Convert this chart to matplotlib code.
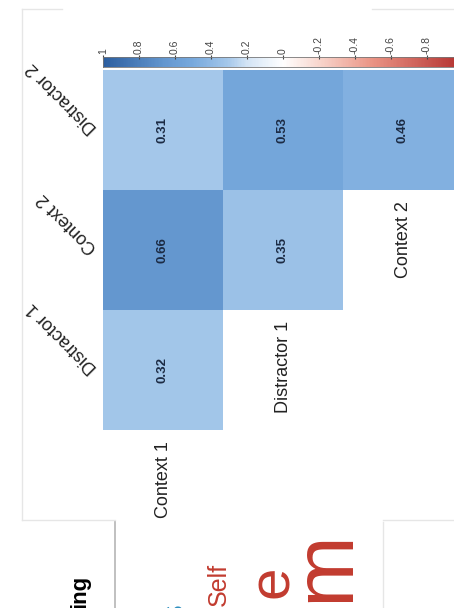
import numpy as np
import matplotlib
matplotlib.use("Agg")
import matplotlib.pyplot as plt
from matplotlib.colors import LinearSegmentedColormap, Normalize
from matplotlib.cm import ScalarMappable
from matplotlib.lines import Line2D

plt.rcParams['font.family'] = ['Liberation Sans', 'DejaVu Sans']

# data (chart is shown rotated: rows on the left, columns at the bottom)
row_labels = ['Distractor 2', 'Context 2', 'Distractor 1']
col_labels = ['Context 1', 'Distractor 1', 'Context 2']
corr_row1 = [0.31, 0.53, 0.46]
corr_row2 = [0.66, 0.35, np.nan]
corr_row3 = [0.32, np.nan, np.nan]
cbar_ticks = [1, 0.8, 0.6, 0.4, 0.2, 0, -0.2, -0.4, -0.6, -0.8]

values = np.ma.masked_invalid(np.array([corr_row1, corr_row2, corr_row3]))

# washed-out blue/red palette, blue side for positive values
cmap = LinearSegmentedColormap.from_list('corr', [
    (0.0, '#b2302e'), (0.25, '#ea9384'), (0.4, '#f8d6cd'), (0.5, '#ffffff'),
    (0.6, '#d3e4f5'), (0.655, '#a4c7ea'), (0.75, '#78a9dd'),
    (0.83, '#6497cf'), (1.0, '#2c5e9f')])
norm = Normalize(vmin=-1, vmax=1)

W, H = 454, 608
fig = plt.figure(figsize=(W / 100, H / 100), dpi=100)
fig.patch.set_facecolor('white')

# background slide fragments
def fline(xs, ys, color='#e6e6e6', lw=1.0):
    fig.add_artist(Line2D([x / W for x in xs], [1 - y / H for y in ys],
                          color=color, lw=lw, transform=fig.transFigure))

fline([22, 62], [9, 9])
fline([372, 454], [9, 9])
fline([22, 22], [9, 520])
fline([22, 115], [520, 520])
fline([383, 454], [520, 520])
fline([383, 383], [522, 608])
fline([115, 115], [522, 608], color='#b5b5b5', lw=1.2)

fig.text(80 / W, 1 - 575 / H, 'ing', rotation=90, rotation_mode='anchor',
         ha='right', va='center', fontsize=16, fontweight='bold', color='black')
fig.text(219 / W, 1 - 563 / H, 'Self', rotation=90, rotation_mode='anchor',
         ha='right', va='center', fontsize=18, color='#c23b2f')
fig.text(176 / W, 1 - 603 / H, 'S', rotation=90, rotation_mode='anchor',
         ha='right', va='center', fontsize=18, color='#2f8fbf')
fig.text(288 / W, 1 - 565 / H, 'e', rotation=90, rotation_mode='anchor',
         ha='right', va='baseline', fontsize=42, color='#c23b2f')
fig.text(348 / W, 1 - 530 / H, 'm', rotation=90, rotation_mode='anchor',
         ha='right', va='baseline', fontsize=62, color='#c23b2f')

# heatmap
ax = fig.add_axes([103 / W, 1 - 430 / H, 360 / W, 360 / H])
ax.pcolormesh(values, cmap=cmap, norm=norm)
ax.set_xlim(0, 3)
ax.set_ylim(3, 0)
ax.axis('off')

for i in range(values.shape[0]):
    for j in range(values.shape[1]):
        if values.mask[i, j]:
            continue
        ax.text(j + 0.5, i + 0.5, f'{values[i, j]:.2f}', rotation=90,
                ha='center', va='center', fontsize=9.5, fontweight='bold',
                color='#1c2b44')

for i, lab in enumerate(row_labels):
    ax.text(-0.07, i + 0.5, lab, rotation=135, rotation_mode='anchor',
            ha='left', va='center', fontsize=13, color='#222222', clip_on=False)

for j, lab in enumerate(col_labels):
    bottom = np.sum(~values.mask[:, j])
    ax.text(j + 0.5, bottom + 0.09, lab, rotation=90, rotation_mode='anchor',
            ha='right', va='center', fontsize=13, color='#222222', clip_on=False)

# colour bar
cax = fig.add_axes([103 / W, 1 - 67 / H, 360 / W, 10 / H])
sm = ScalarMappable(norm=norm, cmap=cmap)
cb = fig.colorbar(sm, cax=cax, orientation='horizontal')
cax.invert_xaxis()
cb.set_ticks(cbar_ticks)
cb.set_ticklabels([f'{t:g}' for t in cbar_ticks])
cax.xaxis.set_ticks_position('top')
cax.tick_params(axis='x', labelsize=7.5, labelcolor='#444444', rotation=90,
                length=3, width=0.8, color='#444444', direction='inout', pad=1)
cb.outline.set_edgecolor('#777777')
cb.outline.set_linewidth(0.6)

fig.savefig('out.png', dpi=100, facecolor='white')
